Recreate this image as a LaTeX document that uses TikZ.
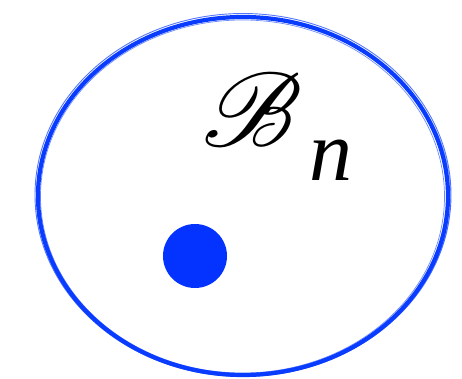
\documentclass[tikz,border=0pt]{standalone}
\usepackage{mathrsfs}
\usepackage{graphicx}
\usepackage{fontspec}
\newfontfamily\timesfont{Liberation Serif}
\definecolor{ringblue}{RGB}{10,60,255}
\definecolor{dotblue}{RGB}{4,51,255}
\tikzset{
  ring/.style={draw=ringblue,line width=#1},
  lbl/.style={inner sep=0pt,outer sep=0pt,text=black}
}
\begin{document}
\begin{tikzpicture}[x=1pt,y=-1pt]
\useasboundingbox (0,0) rectangle (462,379);
% sketchy ellipse
\draw[ring=4.2pt] (243,196) ellipse [x radius=205, y radius=179];
\draw[ring=0.9pt,opacity=0.7] (243,195) ellipse [x radius=208, y radius=181.5];
\draw[ring=0.7pt,opacity=0.6] (242.5,196.5) ellipse [x radius=202, y radius=176.5];
\draw[ring=0.5pt,opacity=0.5] (243.5,196) ellipse [x radius=207, y radius=178];
% dot
\fill[dotblue] (195,256) circle [radius=32];
\node[lbl,anchor=center] (B) at (252,110) {\scalebox{10.5}{$\mathscr{B}$}};
\node[lbl,anchor=center] (n) at (331,160) {\fontsize{86}{86}\selectfont\timesfont\itshape n};
\end{tikzpicture}
\end{document}
